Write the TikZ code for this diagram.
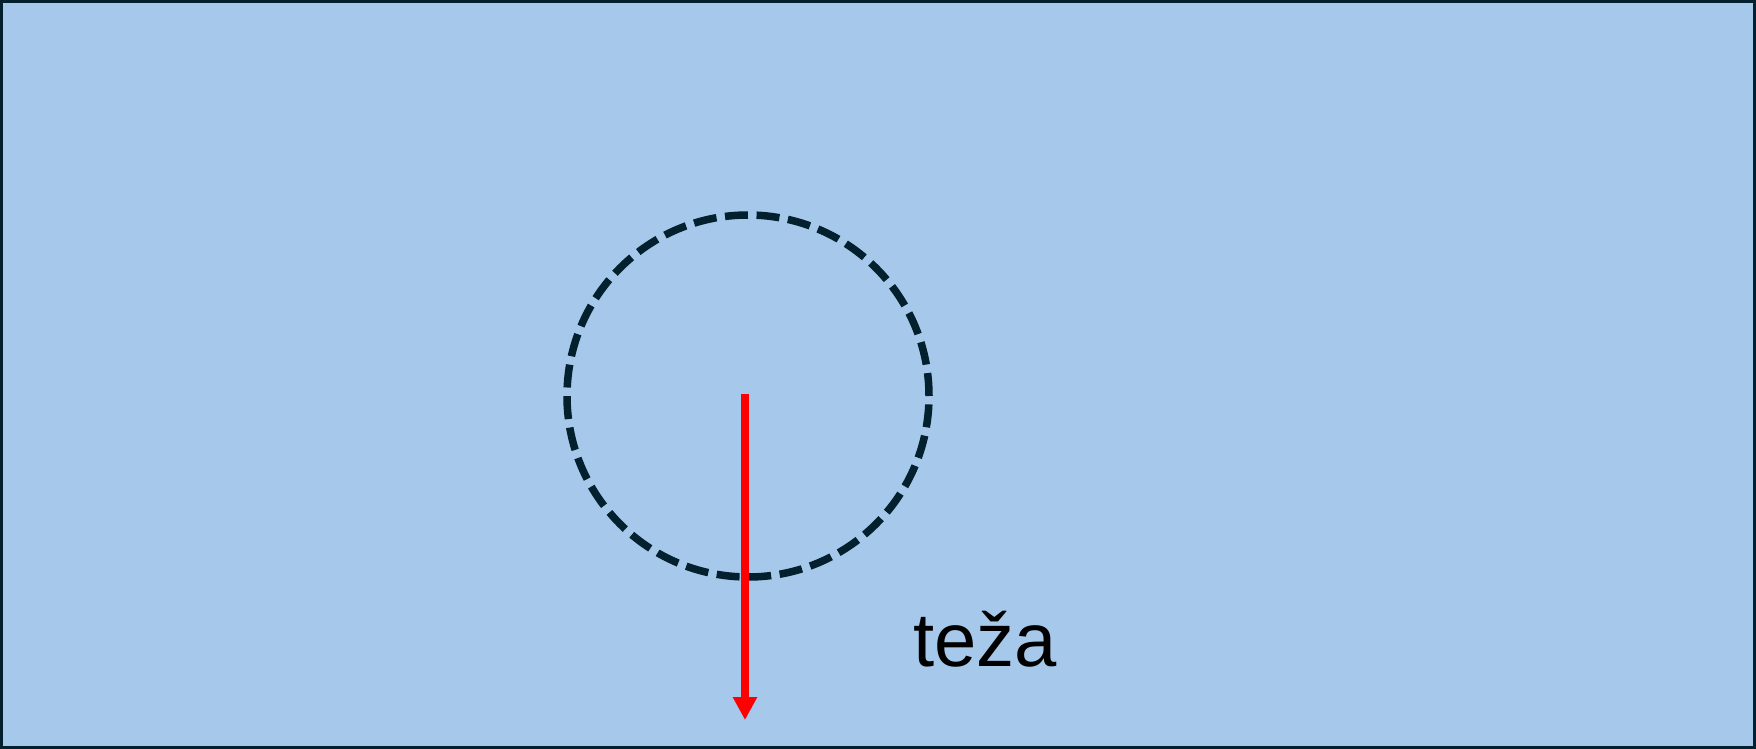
\documentclass[tikz,border=0pt]{standalone}
\usepackage{fontspec}
\setmainfont{Liberation Sans}
\usetikzlibrary{arrows.meta}
\definecolor{bgblue}{HTML}{A6C9EB}
\definecolor{darkline}{HTML}{03202F}
\tikzset{
  frame/.style={draw=darkline, line width=3pt, fill=bgblue},
  ring/.style={draw=darkline, line width=7.5pt, dash pattern=on 23pt off 8.6pt, circle, minimum size=362pt, inner sep=0pt},
  force/.style={draw=red, line width=8pt, -{Triangle[length=23pt,width=23pt]}},
  lbl/.style={font=\fontsize{76}{90}\selectfont, inner sep=0pt, anchor=base west}
}
\begin{document}
\begin{tikzpicture}[x=1pt,y=-1pt]
\useasboundingbox (0,0) rectangle (1756,749);
\path[frame] (1.5,1.5) rectangle (1754.5,747.5);
\node[ring] (body) at (748,396) {};
\coordinate (start) at (745,394);
\coordinate (tip) at (745,720);
\draw[force] (start) -- (tip);
\node[lbl] (teza) at (913,666) {teža};
\end{tikzpicture}
\end{document}
